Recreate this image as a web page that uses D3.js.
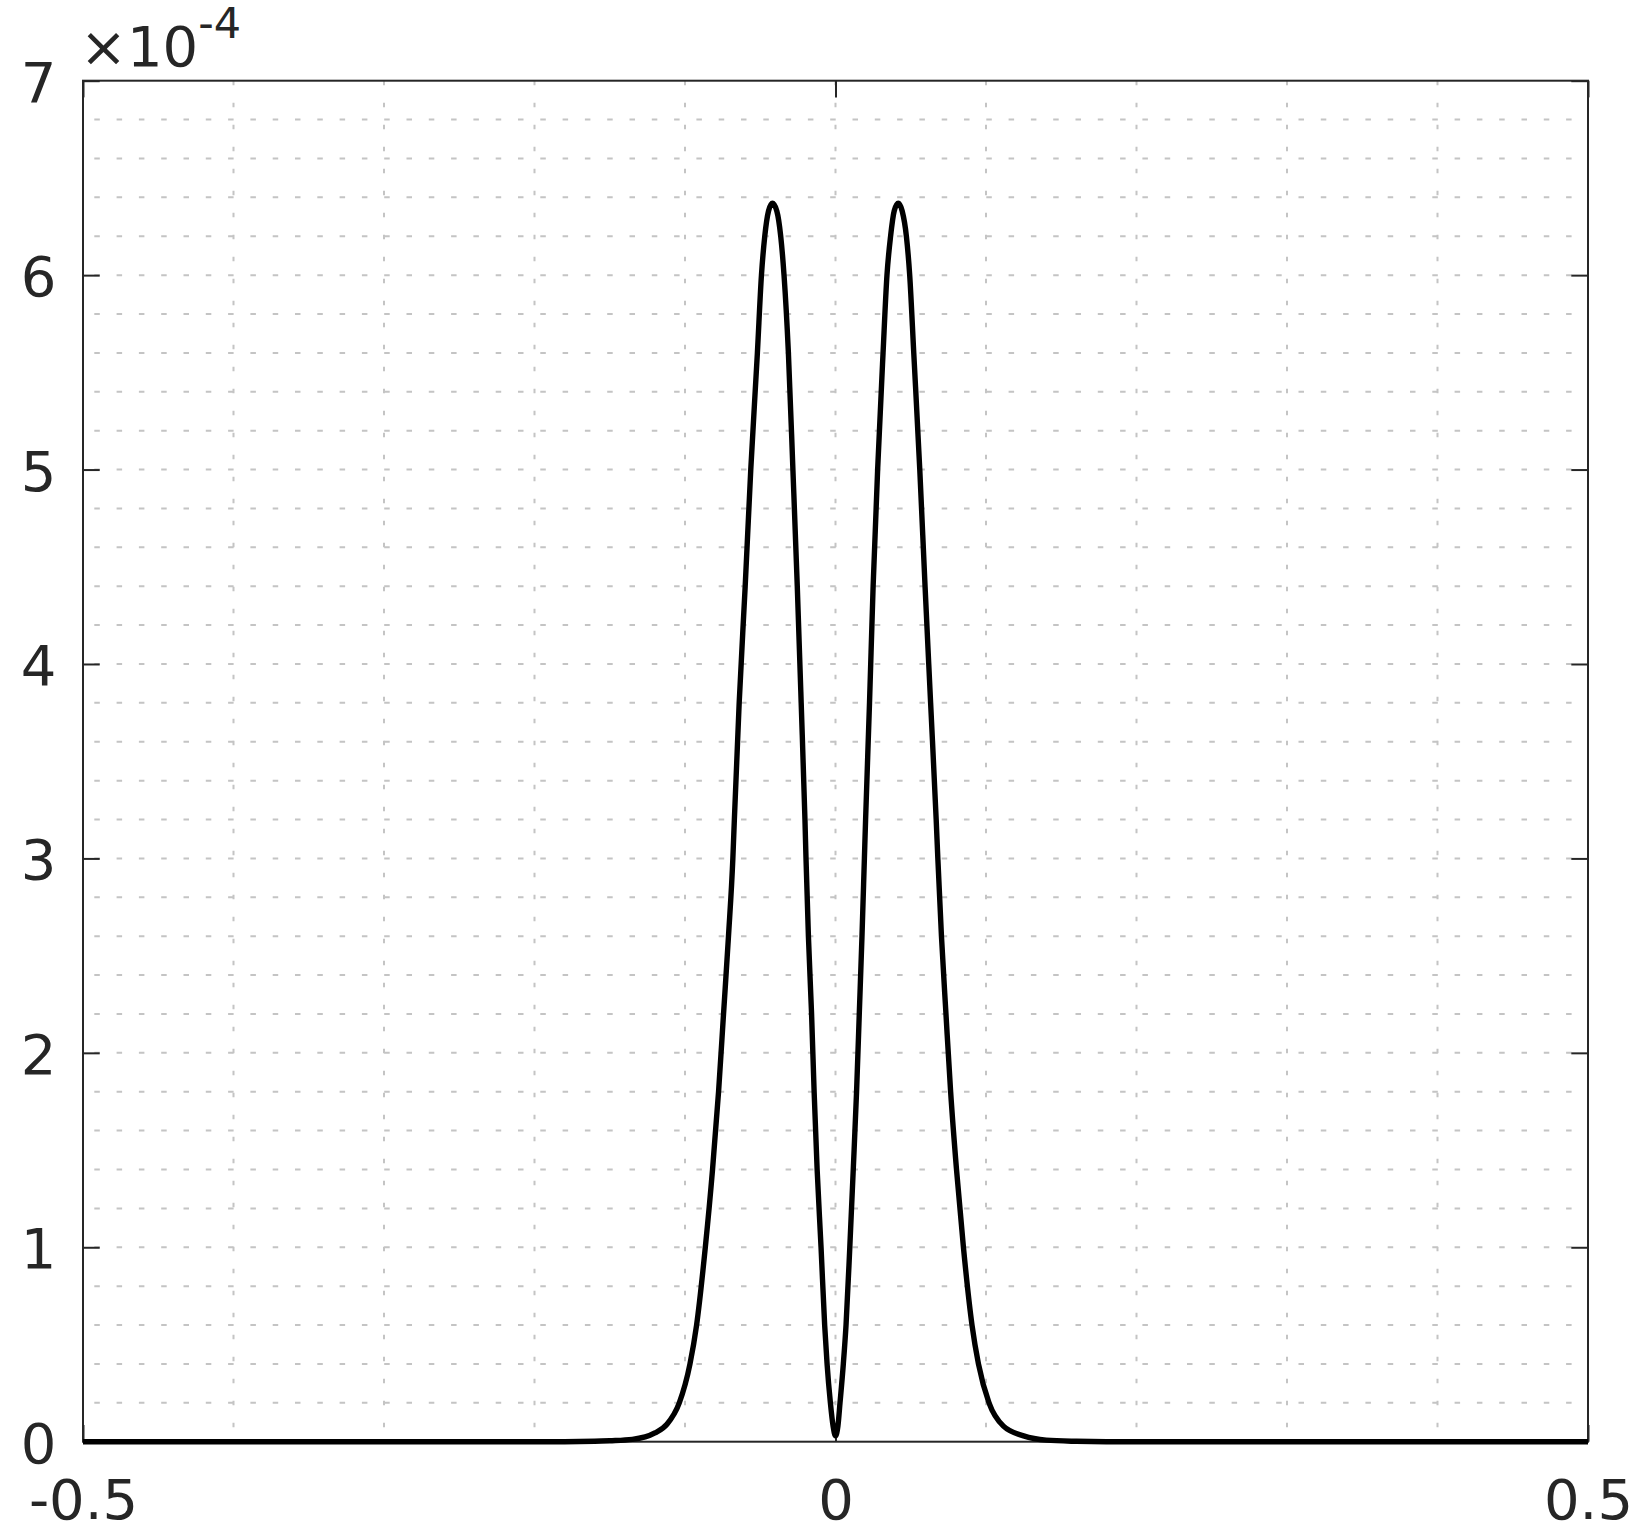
<!doctype html>
<html>
  <head>
    <meta charset="utf-8">
    <title>Double peak</title>
    <script src="https://cdn.jsdelivr.net/npm/d3@7"></script>
    <style>
      body { margin: 0; background: #fff; }
      text { font-family: "DejaVu Sans", sans-serif; fill: #262626; }
    </style>
  </head>
  <body>
  <script>

  // curve, y in units of 1e-4
  var xValues = [
    -0.5, -0.18, -0.16, -0.15, -0.135, -0.12, -0.112, -0.1038, -0.0967, -0.0923,
    -0.0865, -0.0817, -0.0777, -0.0744, -0.0711, -0.0682, -0.0672, -0.064, -0.060, -0.0563,
    -0.0519, -0.0492, -0.047, -0.0445, -0.0419, -0.039, -0.0364, -0.0342, -0.0313, -0.0283,
    -0.0254, -0.0228, -0.0203, -0.0196, -0.0180, -0.0159, -0.0142, -0.0122, -0.0096, -0.0072,
    -0.0056, -0.0034, -0.0016, 0,
    0.0016, 0.0030, 0.0052, 0.0070, 0.0095, 0.0118, 0.0140, 0.0158, 0.0176, 0.0192,
    0.0200, 0.0226, 0.0250, 0.0280, 0.0316, 0.0342, 0.0366, 0.0390, 0.0417, 0.0443,
    0.0471, 0.0493, 0.0520, 0.0560, 0.0595, 0.0632, 0.0669, 0.0680, 0.0704, 0.0734,
    0.0765, 0.0804, 0.0850, 0.0907, 0.0950, 0.1020, 0.1116, 0.125, 0.140, 0.16,
    0.18, 0.5
  ];
  var yValues = [
    0, 0, 0.002, 0.005, 0.012, 0.045, 0.09, 0.2, 0.4, 0.6,
    1.0, 1.4, 1.8, 2.2, 2.6, 3.0, 3.2, 3.8, 4.4, 5.0,
    5.6, 6.0, 6.2, 6.33, 6.37, 6.33, 6.2, 6.0, 5.6, 5.0,
    4.4, 3.8, 3.2, 3.0, 2.6, 2.2, 1.8, 1.4, 1.0, 0.6,
    0.4, 0.2, 0.08, 0.03,
    0.08, 0.2, 0.4, 0.6, 1.0, 1.4, 1.8, 2.2, 2.6, 3.0,
    3.2, 3.8, 4.4, 5.0, 5.6, 6.0, 6.2, 6.33, 6.37, 6.33,
    6.2, 6.0, 5.6, 5.0, 4.4, 3.8, 3.2, 3.0, 2.6, 2.2,
    1.8, 1.4, 1.0, 0.6, 0.4, 0.2, 0.08, 0.03, 0.008, 0.002,
    0, 0
  ];

  var xTicks = [-0.5, 0, 0.5];
  var xTickLabels = ["-0.5", "0", "0.5"];
  var xGridTicks = [-0.4, -0.3, -0.2, -0.1, 0, 0.1, 0.2, 0.3, 0.4];
  var yTicks = [0, 1, 2, 3, 4, 5, 6, 7];
  var yTickLabels = ["0", "1", "2", "3", "4", "5", "6", "7"];

  var width = 1640;
  var height = 1538;
  var margin = {left: 83, top: 80.7, right: 52, bottom: 96.3};
  var w = width - margin.left - margin.right;
  var h = height - margin.top - margin.bottom;
  var tick = 16.7;

  var svg = d3.select('body').append('svg')
    .attr('width', width).attr('height', height);
  var g = svg.append('g')
    .attr('transform', 'translate(' + margin.left + ',' + margin.top + ')');

  var x = d3.scaleLinear().domain([-0.5, 0.5]).range([0, w]);
  var y = d3.scaleLinear().domain([0, 7]).range([h, 0]);

  // grid: every 0.2 on y, every 0.1 on x, dotted
  var yGridTicks = d3.range(1, 35).map(function (i) { return i / 5; });
  g.append('g').selectAll('line').data(yGridTicks).enter().append('line')
    .attr('x1', 0).attr('x2', w)
    .attr('y1', function (d) { return y(d); }).attr('y2', function (d) { return y(d); })
    .attr('stroke', '#c4c4c4').attr('stroke-width', 2)
    .attr('stroke-dasharray', '5.5 16.8').attr('stroke-dashoffset', -11.3);

  g.append('g').selectAll('line').data(xGridTicks).enter().append('line')
    .attr('y1', 0).attr('y2', h)
    .attr('x1', function (d) { return x(d); }).attr('x2', function (d) { return x(d); })
    .attr('stroke', '#c4c4c4').attr('stroke-width', 2)
    .attr('stroke-dasharray', '4.6 17.4').attr('stroke-dashoffset', 0);

  // axes, ticks inward
  function styleAxis(sel) {
    sel.select('.domain').remove();
    sel.selectAll('line').attr('stroke', '#262626').attr('stroke-width', 2);
    sel.selectAll('text').attr('font-size', 56).attr('fill', '#262626')
      .attr('font-family', '"DejaVu Sans", sans-serif');
  }

  g.append('g')
    .call(d3.axisLeft(y).tickValues(yTicks).tickSize(-tick).tickPadding(26.5)
      .tickFormat(function (d, i) { return yTickLabels[i]; }))
    .call(styleAxis)
    .selectAll('text').attr('dy', '0.365em');

  g.append('g').attr('transform', 'translate(' + w + ',0)')
    .call(d3.axisRight(y).tickValues(yTicks).tickSize(-tick).tickFormat(''))
    .call(styleAxis);

  g.append('g').attr('transform', 'translate(0,' + h + ')')
    .call(d3.axisBottom(x).tickValues(xTicks).tickSize(-tick).tickPadding(37.5)
      .tickFormat(function (d, i) { return xTickLabels[i]; }))
    .call(styleAxis);

  g.append('g')
    .call(d3.axisTop(x).tickValues(xTicks).tickSize(-tick).tickFormat(''))
    .call(styleAxis);

  g.append('rect')
    .attr('width', w).attr('height', h)
    .attr('fill', 'none').attr('stroke', '#262626').attr('stroke-width', 2);

  // exponent
  var expo = svg.append('text').attr('x', 80).attr('y', 66).attr('font-size', 56);
  expo.append('tspan').text('\u00d710');
  expo.append('tspan').attr('font-size', 43).attr('dy', -28).text('-4');

  // curve
  var points = xValues.map(function (d, i) { return [d, yValues[i]]; });
  var line = d3.line()
    .x(function (d) { return x(d[0]); })
    .y(function (d) { return y(d[1]); })
    .curve(d3.curveMonotoneX);

  g.append('path').datum(points)
    .attr('d', line)
    .attr('fill', 'none')
    .attr('stroke', '#000')
    .attr('stroke-width', 5.4)
    .attr('stroke-linejoin', 'round');

  </script>
  </body>
</html>
